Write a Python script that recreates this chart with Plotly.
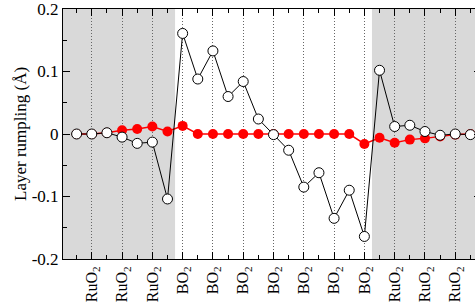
import plotly.graph_objects as go

# layer index positions (half-steps of the layer stack)
positions = list(range(27))

open_values = [0.0, 0.0, 0.002, -0.005, -0.015, -0.013, -0.104, 0.161, 0.088, 0.133,
               0.060, 0.084, 0.024, -0.001, -0.026, -0.085, -0.062, -0.135, -0.090,
               -0.164, 0.102, 0.012, 0.014, 0.004, -0.002, 0.0, -0.001]

red_values = [0.0, 0.0, 0.002, 0.006, 0.008, 0.012, 0.004, 0.013, 0.0, 0.0,
              0.0, 0.0, 0.0, 0.0, 0.0, 0.0, 0.0, 0.0, 0.0,
              -0.016, -0.006, -0.014, -0.009, -0.007, -0.004, -0.001, 0.0]

tick_positions = [1, 3, 5, 7, 9, 11, 13, 15, 17, 19, 21, 23, 25]
tick_labels = ["RuO<sub>2</sub>"] * 3 + ["BO<sub>2</sub>"] * 7 + ["RuO<sub>2</sub>"] * 3

shaded_ranges = [(-2, 6.5), (19.5, 30)]

y_tickvals = [0.2, 0.1, 0, -0.1, -0.2]
y_ticktext = ["0.2", "0.1", "0", "-0.1", "-0.2"]

FONT = "Liberation Serif, Times New Roman, serif"

W, H = 481, 306
ML, MR, MT, MB = 63, 0, 9, 47

fig = go.Figure()

for x0, x1 in shaded_ranges:
    fig.add_shape(type="rect", xref="x", yref="paper", x0=x0, x1=x1, y0=0, y1=1,
                  fillcolor="#d9d9d9", line_width=0, layer="below")

fig.add_trace(go.Scatter(
    x=positions, y=red_values, mode="lines+markers",
    line=dict(color="#ff0000", width=1.5),
    marker=dict(color="#ff0000", size=10, line=dict(width=0)),
    showlegend=False, cliponaxis=False, hoverinfo="skip"))

fig.add_trace(go.Scatter(
    x=positions, y=open_values, mode="lines+markers",
    line=dict(color="black", width=1),
    marker=dict(color="white", size=10, line=dict(color="black", width=1)),
    showlegend=False, cliponaxis=False, hoverinfo="skip"))

fig.update_layout(
    width=W, height=H,
    margin=dict(l=ML, r=MR, t=MT, b=MB),
    paper_bgcolor="white", plot_bgcolor="white",
    font=dict(family=FONT, size=16, color="black"),
)

fig.add_annotation(
    text="Layer rumpling (Å)", xref="paper", yref="paper",
    x=(20 - ML) / (W - ML - MR), y=0.5, xanchor="center", yanchor="middle",
    textangle=-90, showarrow=False, font=dict(family=FONT, size=17, color="black"))

fig.update_xaxes(
    range=[-0.9, 26.7], automargin=False,
    tickmode="array", tickvals=tick_positions, ticktext=tick_labels,
    tickangle=-90, tickfont=dict(family=FONT, size=16),
    ticks="inside", ticklen=7, tickwidth=1, tickcolor="black",
    showline=True, linecolor="black", linewidth=1, mirror="ticks",
    showgrid=True, gridcolor="#666666", griddash="1px,2px", gridwidth=1,
    zeroline=False,
    minor=dict(tickmode="linear", tick0=0, dtick=2, ticks="inside", ticklen=4,
               tickcolor="black", showgrid=False),
)

fig.update_yaxes(
    range=[-0.2001, 0.2001], automargin=False,
    tickmode="array", tickvals=y_tickvals, ticktext=y_ticktext,
    tickfont=dict(family=FONT, size=17),
    ticks="inside", ticklen=7, tickwidth=1, tickcolor="black",
    showline=True, linecolor="black", linewidth=1, mirror="ticks",
    showgrid=False, zeroline=False,
    minor=dict(tickmode="array", tickvals=[-0.15, -0.05, 0.05, 0.15], ticks="inside", ticklen=4,
               tickcolor="black", showgrid=False),
)

fig.write_html(
    "out.html",
    config={"displayModeBar": False},
    post_script="document.body.style.margin='0px';document.body.style.overflow='hidden';",
)
